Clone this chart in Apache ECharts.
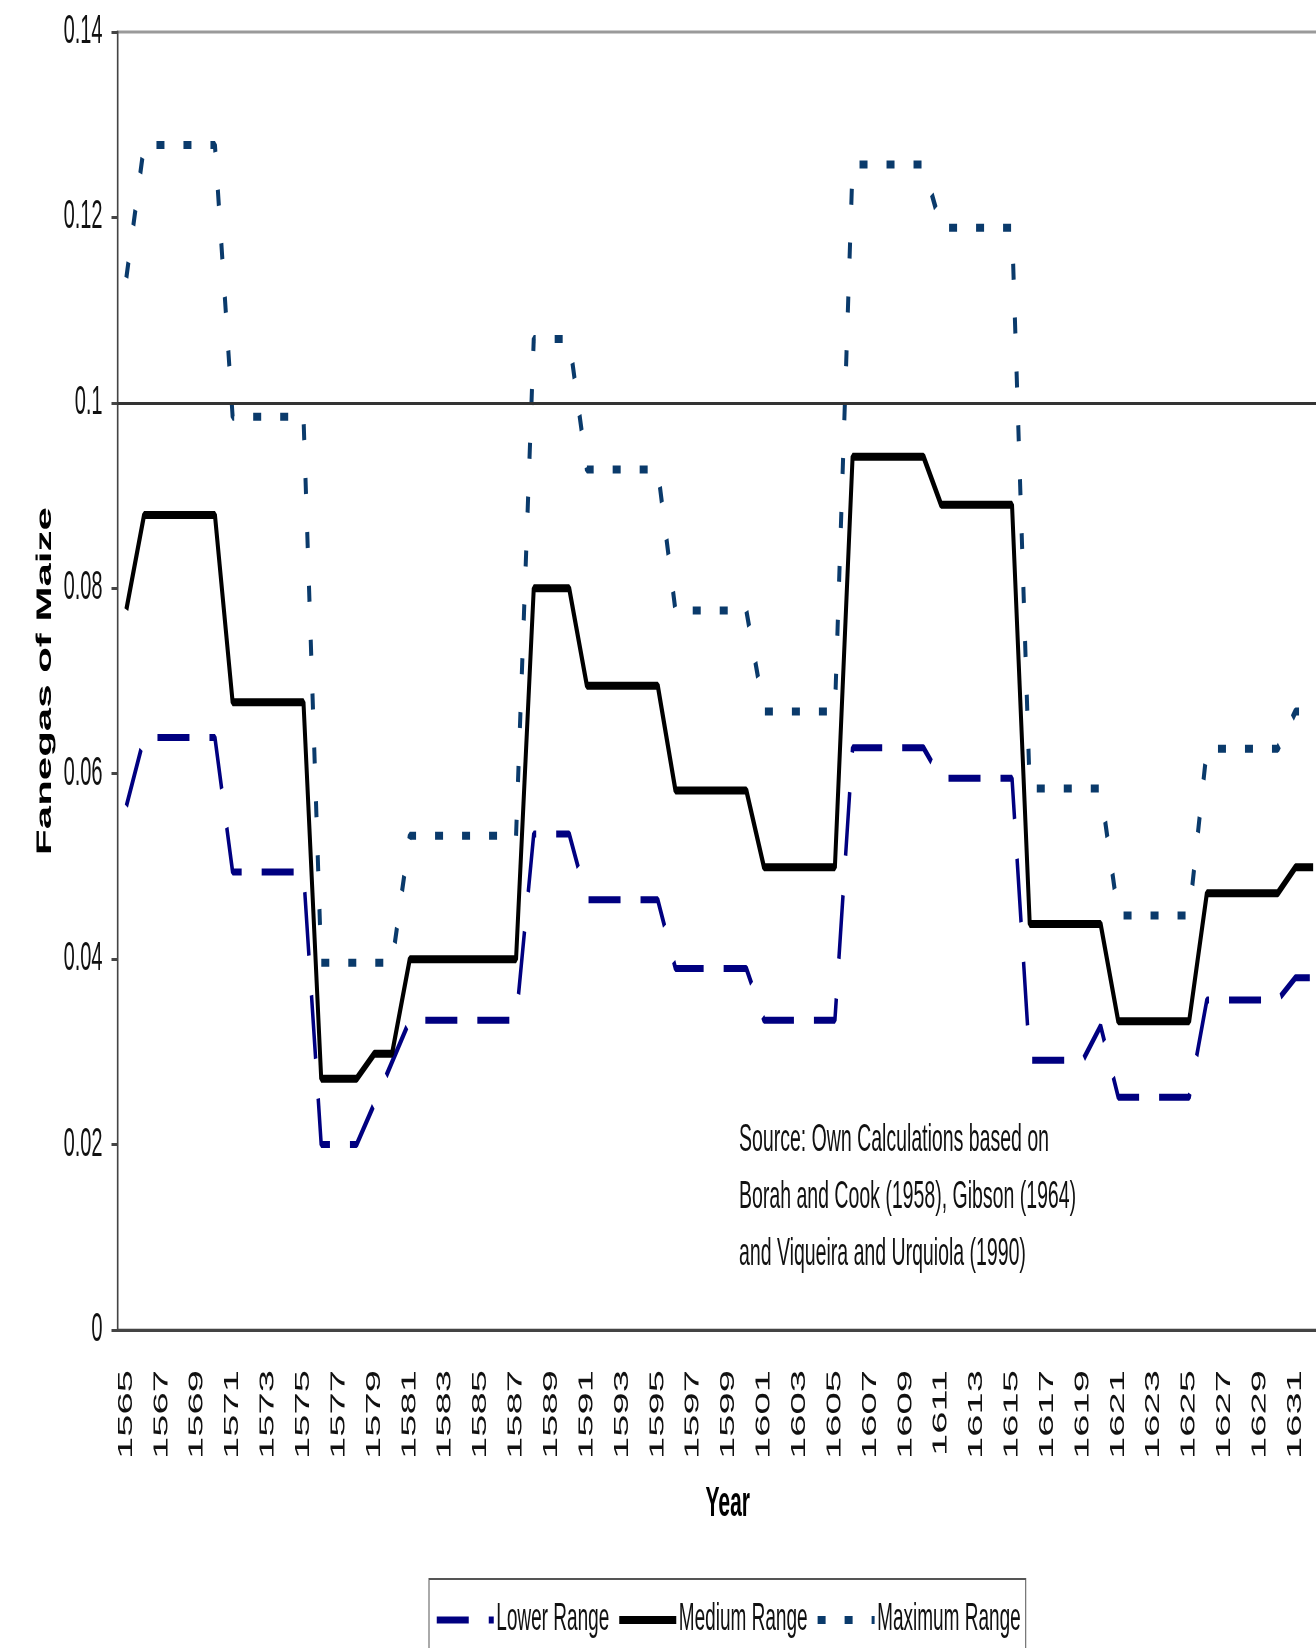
<!DOCTYPE html>
<html>
<head>
<meta charset="utf-8">
<script src="https://cdn.jsdelivr.net/npm/echarts@6/dist/echarts.min.js"></script>
<style>
  html, body { margin: 0; padding: 0; overflow: hidden; background: #fff; }
  #wrap { width: 1316px; height: 1648px; overflow: hidden; position: relative; }
  /* the reference is horizontally squeezed, so draw wide and squeeze it back */
  #chart { width: 2680px; height: 1648px; transform: scaleX(0.5); transform-origin: 0 0; }
</style>
</head>
<body>
<div id="wrap"><div id="chart"></div></div>
<script>
const years = [
  "1565","1566","1567","1568","1569","1570","1571","1572","1573","1574",
  "1575","1576","1577","1578","1579","1580","1581","1582","1583","1584",
  "1585","1586","1587","1588","1589","1590","1591","1592","1593","1594",
  "1595","1596","1597","1598","1599","1600","1601","1602","1603","1604",
  "1605","1606","1607","1608","1609","1610","1611","1612","1613","1614",
  "1615","1616","1617","1618","1619","1620","1621","1622","1623","1624",
  "1625","1626","1627","1628","1629","1630","1631","1632"
];

const lowerRange = [
  0.0565,
  0.0639, 0.0639, 0.0639, 0.0639, 0.0639,
  0.0494, 0.0494, 0.0494, 0.0494, 0.0494,
  0.0200, 0.0200, 0.0200, 0.0244, 0.0289,
  0.0334, 0.0334, 0.0334, 0.0334, 0.0334, 0.0334, 0.0334,
  0.0535, 0.0535, 0.0535,
  0.0464, 0.0464, 0.0464, 0.0464, 0.0464,
  0.0390, 0.0390, 0.0390, 0.0390, 0.0390,
  0.0334, 0.0334, 0.0334, 0.0334, 0.0334,
  0.0628, 0.0628, 0.0628, 0.0628, 0.0628,
  0.0595, 0.0595, 0.0595, 0.0595, 0.0595,
  0.0291, 0.0291, 0.0291, 0.0291, 0.0328,
  0.0251, 0.0251, 0.0251, 0.0251, 0.0251,
  0.0356, 0.0356, 0.0356, 0.0356, 0.0356,
  0.0380, 0.0380
];

const mediumRange = [
  0.0777,
  0.0879, 0.0879, 0.0879, 0.0879, 0.0879,
  0.0677, 0.0677, 0.0677, 0.0677, 0.0677,
  0.0271, 0.0271, 0.0271, 0.0298, 0.0298,
  0.0400, 0.0400, 0.0400, 0.0400, 0.0400, 0.0400, 0.0400,
  0.0800, 0.0800, 0.0800,
  0.0695, 0.0695, 0.0695, 0.0695, 0.0695,
  0.0582, 0.0582, 0.0582, 0.0582, 0.0582,
  0.0499, 0.0499, 0.0499, 0.0499, 0.0499,
  0.0942, 0.0942, 0.0942, 0.0942, 0.0942,
  0.0890, 0.0890, 0.0890, 0.0890, 0.0890,
  0.0438, 0.0438, 0.0438, 0.0438, 0.0438,
  0.0333, 0.0333, 0.0333, 0.0333, 0.0333,
  0.0471, 0.0471, 0.0471, 0.0471, 0.0471,
  0.0499, 0.0499
];

const maximumRange = [
  0.1135,
  0.1278, 0.1278, 0.1278, 0.1278, 0.1278,
  0.0985, 0.0985, 0.0985, 0.0985, 0.0985,
  0.0396, 0.0396, 0.0396, 0.0396, 0.0396,
  0.0533, 0.0533, 0.0533, 0.0533, 0.0533, 0.0533, 0.0533,
  0.1069, 0.1069, 0.1069,
  0.0928, 0.0928, 0.0928, 0.0928, 0.0928,
  0.0776, 0.0776, 0.0776, 0.0776, 0.0776,
  0.0667, 0.0667, 0.0667, 0.0667, 0.0667,
  0.1257, 0.1257, 0.1257, 0.1257, 0.1257,
  0.1189, 0.1189, 0.1189, 0.1189, 0.1189,
  0.0584, 0.0584, 0.0584, 0.0584, 0.0584,
  0.0447, 0.0447, 0.0447, 0.0447, 0.0447,
  0.0627, 0.0627, 0.0627, 0.0627, 0.0627,
  0.0667, 0.0667
];

const sourceLines = [
  "Source: Own Calculations based on",
  "Borah and Cook (1958), Gibson (1964)",
  "and Viqueira and Urquiola (1990)"
];

const font = "'Liberation Sans', Arial, sans-serif";

let my_chart = echarts.init(document.getElementById("chart"), null, { devicePixelRatio: 1 });
my_chart.setOption({
  animation: false,
  backgroundColor: "#fff",
  grid: {
    left: 235,
    right: 36,
    top: 32,
    bottom: 318,
    show: true,
    borderColor: "#9a9a9a",
    borderWidth: 3,
    outerBoundsMode: "none",
  },
  legend: {
    left: 858,
    top: 1579,
    itemWidth: 114,
    itemHeight: 20,
    itemGap: 16,
    padding: [22, 10, 40, 12],
    borderColor: "#555",
    borderWidth: 2,
    textStyle: { fontSize: 38, fontFamily: font, color: "#111" },
    lineStyle: { width: "inherit", type: "inherit" },
    itemStyle: { opacity: 0, borderWidth: 0 },
    data: ["Lower Range", "Medium Range", "Maximum Range"],
  },
  xAxis: {
    type: "category",
    data: years,
    boundaryGap: true,
    name: "Year",
    nameLocation: "middle",
    nameGap: 153,
    nameTextStyle: { fontSize: 42, fontWeight: "bold", fontFamily: font, color: "#000", padding: [0, 0, 0, 32] },
    axisLine: { lineStyle: { color: "#444", width: 3 } },
    axisTick: { interval: 0, length: 14, lineStyle: { color: "#444", width: 3 } },
    axisLabel: { interval: 1, rotate: 90, margin: 40, fontSize: 40, fontFamily: font, color: "#111" },
    splitLine: { show: false },
  },
  yAxis: {
    type: "value",
    min: 0,
    max: 0.14,
    interval: 0.02,
    name: "Fanegas of Maize",
    nameLocation: "middle",
    nameGap: 124,
    nameTextStyle: { fontSize: 42, fontWeight: "bold", fontFamily: font, color: "#000" },
    axisLine: { show: true, lineStyle: { color: "#444", width: 3 } },
    axisTick: { show: true, length: 12, lineStyle: { color: "#444", width: 3 } },
    axisLabel: { margin: 30, fontSize: 40, fontFamily: font, color: "#111" },
    splitLine: { show: false },
  },
  graphic: [
    {
      type: "text",
      left: 1478,
      top: 1112,
      style: {
        text: sourceLines.join("\n"),
        fontSize: 39,
        fontFamily: font,
        lineHeight: 57,
        fill: "#111",
      },
    },
  ],
  series: [
    {
      name: "Lower Range",
      type: "line",
      data: lowerRange,
      symbol: "none",
      lineStyle: { color: "#000080", width: 7, type: [64, 40] },
      itemStyle: { color: "#000080" },
      markLine: {
        silent: true,
        symbol: ["none", "none"],
        label: { show: false },
        lineStyle: { color: "#333", width: 3, type: "solid" },
        data: [{ yAxis: 0.1 }],
      },
    },
    {
      name: "Medium Range",
      type: "line",
      data: mediumRange,
      symbol: "none",
      lineStyle: { color: "#000", width: 8, type: "solid" },
      itemStyle: { color: "#000" },
    },
    {
      name: "Maximum Range",
      type: "line",
      data: maximumRange,
      symbol: "none",
      lineStyle: { color: "#0a3a6b", width: 8, type: [16, 38] },
      itemStyle: { color: "#0a3a6b" },
    },
  ],
});
</script>
</body>
</html>
